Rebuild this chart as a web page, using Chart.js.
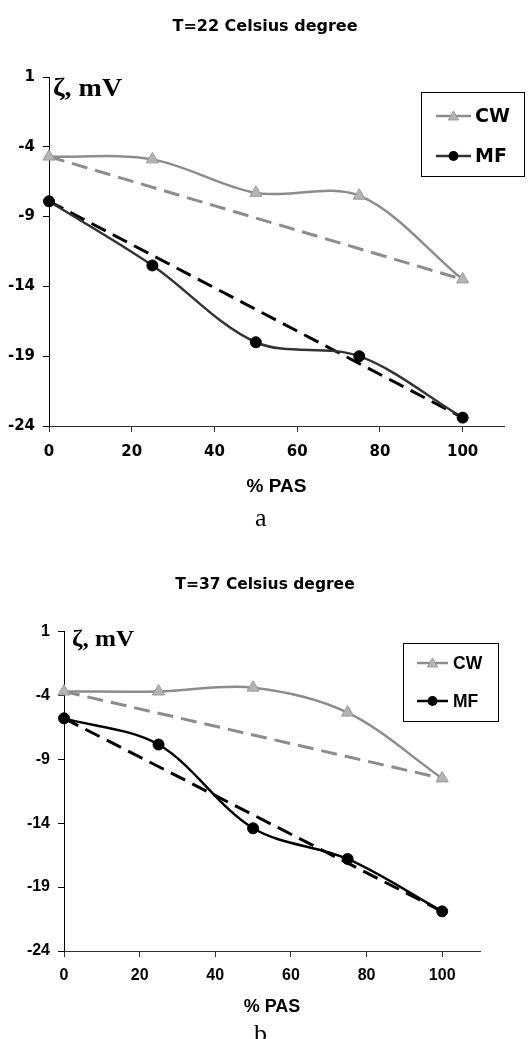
<!DOCTYPE html>
<html>
<head>
<meta charset="utf-8">
<script src="https://cdn.jsdelivr.net/npm/chart.js@4/dist/chart.umd.min.js"></script>
<style>
  body { margin: 0; background: #fff; width: 530px; height: 1039px; position: relative; overflow: hidden; }
  canvas { position: absolute; left: 0; }
  .cap { position: absolute; font-family: "Liberation Serif", serif; font-size: 26px; line-height: 26px; color: #000; }
</style>
</head>
<body>
<canvas id="chart22" width="530" height="540" style="top:0;width:530px;height:540px"></canvas>
<canvas id="chart37" width="530" height="499" style="top:540px;width:530px;height:499px"></canvas>
<div class="cap" style="left:255px;top:505px">a</div>
<div class="cap" style="left:254px;top:1021px">b</div>
<script>
// values
const pas = [0, 25, 50, 75, 100];
const xTicks = [0, 20, 40, 60, 80, 100];
const yTicks = [-24, -19, -14, -9, -4, 1];
const cw22 = [-4.7, -4.9, -7.3, -7.5, -13.5];
const mf22 = [-7.9, -12.5, -18.0, -19.0, -23.4];
const cw37 = [-3.7, -3.7, -3.4, -5.35, -10.5];
const mf37 = [-5.8, -7.85, -14.4, -16.8, -20.9];
const seriesNames = ['CW', 'MF'];
const titles = ['T=22 Celsius degree', 'T=37 Celsius degree'];
const xTitle = '% PAS';
const yLabel = 'ζ, mV';

function points(vals) {
  return pas.map((x, i) => ({ x: x, y: vals[i] }));
}
// dashed lines join the first and last measured point
function ends(vals) {
  return [{ x: pas[0], y: vals[0] }, { x: pas[pas.length - 1], y: vals[vals.length - 1] }];
}

function tri(ctx, x, y, r) {
  ctx.beginPath();
  ctx.moveTo(x, y - r);
  ctx.lineTo(x + r * 0.866, y + r / 2);
  ctx.lineTo(x - r * 0.866, y + r / 2);
  ctx.closePath();
  ctx.fill();
  ctx.stroke();
}

function extras(g) {
  return {
    id: 'extras',
    afterDraw(chart) {
      const ctx = chart.ctx;
      ctx.save();
      ctx.fillStyle = '#000';
      ctx.font = g.yLabelFont;
      ctx.textBaseline = 'alphabetic';
      ctx.translate(g.yLabelX, g.yLabelY);
      ctx.scale(g.yLabelStretch, 1);
      ctx.fillText(yLabel, 0, 0);
      ctx.restore();

      const L = g.legend;
      ctx.save();
      ctx.fillStyle = '#fff';
      ctx.fillRect(L.x, L.y, L.w, L.h);
      ctx.strokeStyle = '#000';
      ctx.lineWidth = 1;
      ctx.strokeRect(L.x + 0.5, L.y + 0.5, L.w, L.h);
      chart.data.datasets.filter(d => d.inLegend).forEach((d, i) => {
        const y = L.rows[i];
        ctx.strokeStyle = d.borderColor;
        ctx.lineWidth = d.borderWidth;
        ctx.beginPath();
        ctx.moveTo(L.x0, y);
        ctx.lineTo(L.x1, y);
        ctx.stroke();
        const mx = (L.x0 + L.x1) / 2;
        ctx.fillStyle = d.pointBackgroundColor;
        ctx.strokeStyle = d.pointBorderColor;
        ctx.lineWidth = 1;
        if (d.pointStyle === 'triangle') {
          tri(ctx, mx, y + 1, d.pointRadius * 0.85);
        } else {
          ctx.beginPath();
          ctx.arc(mx, y, d.pointRadius * 0.9, 0, Math.PI * 2);
          ctx.fill();
        }
        ctx.fillStyle = '#000';
        ctx.font = L.font;
        ctx.textBaseline = 'middle';
        ctx.fillText(d.label, L.textX, y + 1);
      });
      ctx.restore();
    }
  };
}

function makeChart(id, title, cw, mf, g) {
  return new Chart(document.getElementById(id), {
    type: 'line',
    data: {
      datasets: [
        {
          label: seriesNames[0], inLegend: true, data: points(cw),
          borderColor: '#8c8c8c', borderWidth: 2.5, tension: 0.33,
          pointStyle: 'triangle', pointRadius: 7,
          pointBackgroundColor: '#b4b4b4', pointBorderColor: '#9a9a9a', pointBorderWidth: 1,
          clip: false
        },
        {
          label: seriesNames[1], inLegend: true, data: points(mf),
          borderColor: g.mfColor, borderWidth: 2.5, tension: 0.33,
          pointStyle: 'circle', pointRadius: 5.5,
          pointBackgroundColor: '#000', pointBorderColor: '#000', pointBorderWidth: 1,
          clip: false
        },
        {
          label: '', data: ends(cw), borderColor: '#8c8c8c', borderWidth: 3,
          borderDash: [16, 8], pointRadius: 0, tension: 0, clip: false
        },
        {
          label: '', data: ends(mf), borderColor: '#000', borderWidth: 3,
          borderDash: [16, 8], pointRadius: 0, tension: 0, clip: false
        }
      ]
    },
    options: {
      responsive: false,
      devicePixelRatio: 1,
      animation: false,
      events: [],
      layout: { padding: 0 },
      plugins: {
        legend: { display: false },
        tooltip: { enabled: false },
        title: {
          display: true, text: title, color: '#000',
          font: g.titleFont,
          padding: { top: g.titleTop, bottom: g.titleBottom }
        }
      },
      scales: {
        x: {
          type: 'linear', min: 0, max: 110,
          afterBuildTicks: s => { s.ticks = xTicks.map(v => ({ value: v })); },
          afterFit: s => { s.height = g.xHeight; },
          ticks: { color: '#000', font: g.tickFont, padding: g.xTickPad, maxRotation: 0 },
          grid: { drawOnChartArea: false, drawTicks: true, tickLength: 6, color: '#333' },
          border: { color: '#333', width: 1 },
          title: {
            display: true, text: xTitle, color: '#000', font: g.xTitleFont,
            padding: { top: 0, bottom: g.xTitleBottom }
          }
        },
        y: {
          type: 'linear', min: -24, max: 1,
          afterBuildTicks: s => { s.ticks = yTicks.map(v => ({ value: v })); },
          afterFit: s => { s.width = g.yWidth; },
          ticks: { color: '#000', font: g.tickFont, padding: 8 },
          grid: { drawOnChartArea: false, drawTicks: true, tickLength: 6, color: '#000' },
          border: { color: '#000', width: 1 }
        },
        // empty right-hand strip so the title stays centred on the page
        spacer: {
          type: 'linear', position: 'right',
          afterFit: s => { s.width = g.padRight; },
          ticks: { display: false },
          grid: { display: false },
          border: { display: false }
        }
      }
    },
    plugins: [extras(g)]
  });
}

makeChart('chart22', titles[0], cw22, mf22, {
  mfColor: '#333',
  padRight: 26, yWidth: 49, xHeight: 114,
  titleFont: { family: 'DejaVu Sans', size: 16, weight: 'bold' },
  titleTop: 17.4, titleBottom: 40.4,
  tickFont: { family: 'DejaVu Sans', size: 15, weight: 'bold' },
  xTickPad: 11.5,
  xTitleFont: { family: 'Liberation Sans', size: 19, weight: 'bold' },
  xTitleBottom: 41.6,
  yLabelFont: 'bold 25px "Liberation Serif"', yLabelX: 53, yLabelY: 96, yLabelStretch: 1.12,
  legend: {
    x: 421, y: 92, w: 103, h: 84, rows: [116, 156], x0: 436, x1: 471, textX: 475,
    font: 'bold 19px "DejaVu Sans"'
  }
});

makeChart('chart37', titles[1], cw37, mf37, {
  mfColor: '#000',
  padRight: 50, yWidth: 64, xHeight: 88,
  titleFont: { family: 'DejaVu Sans', size: 15.5, weight: 'bold' },
  titleTop: 35.4, titleBottom: 37.4,
  tickFont: { family: 'Liberation Sans', size: 16, weight: 'bold' },
  xTickPad: 8.5,
  xTitleFont: { family: 'Liberation Sans', size: 18, weight: 'bold' },
  xTitleBottom: 21.2,
  yLabelFont: 'bold 24px "Liberation Serif"', yLabelX: 72, yLabelY: 106, yLabelStretch: 1.05,
  legend: {
    x: 403, y: 103, w: 95, h: 78, rows: [123, 161], x0: 417, x1: 448, textX: 453,
    font: 'bold 17.5px "Liberation Sans"'
  }
});
</script>
</body>
</html>
